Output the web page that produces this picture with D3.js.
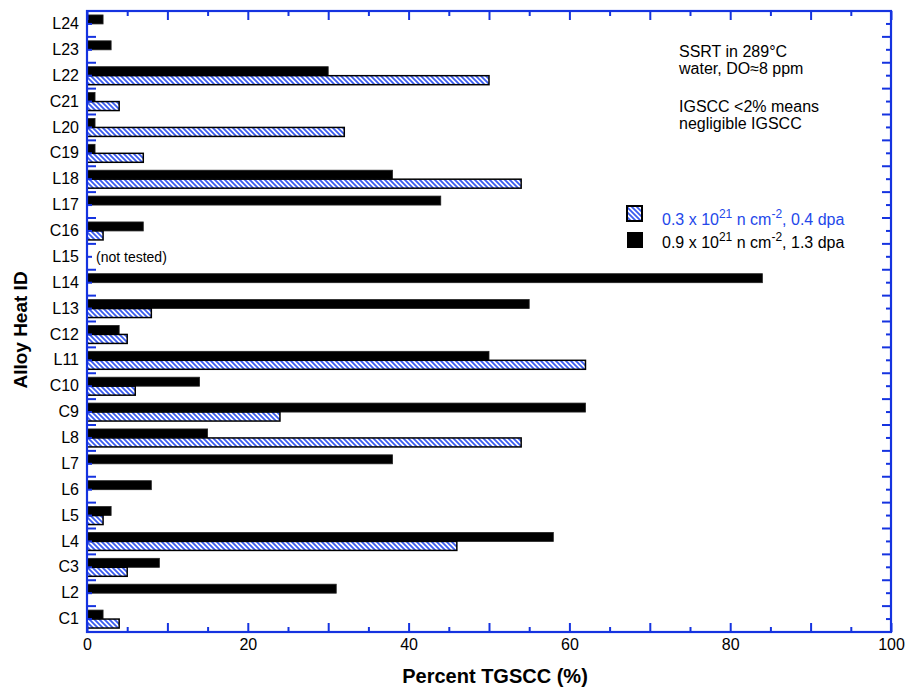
<!DOCTYPE html>
<html>
<head>
<meta charset="utf-8">
<script src="https://cdn.jsdelivr.net/npm/d3@7"></script>
<style>
  body { margin: 0; background: #fff; }
  svg { display: block; font-family: "Liberation Sans", Arial, Helvetica, sans-serif; }
</style>
</head>
<body>
<svg id="chart" width="910" height="688"></svg>
<script>
// ---- Data (bottom to top) ----
const categories = ["C1","L2","C3","L4","L5","L6","L7","L8","C9","C10","L11","C12","L13","L14","L15","C16","L17","L18","C19","L20","C21","L22","L23","L24"];
// 0.9 x 10^21 n cm^-2, 1.3 dpa (black)
const highDose = [2, 31, 9, 58, 3, 8, 38, 15, 62, 14, 50, 4, 55, 84, null, 7, 44, 38, 1, 1, 1, 30, 3, 2];
// 0.3 x 10^21 n cm^-2, 0.4 dpa (hatched)
const lowDose  = [4, null, 5, 46, 2, null, null, 54, 24, 6, 62, 5, 8, null, null, 2, null, 54, 7, 32, 4, 50, null, null];
const xMajorTicks = [0, 10, 20, 30, 40, 50, 60, 70, 80, 90, 100];
const xMinorTicks = [5, 15, 25, 35, 45, 55, 65, 75, 85, 95];
const xTitle = "Percent TGSCC (%)";
const yTitle = "Alloy Heat ID";
const noteLines1 = ["SSRT in 289°C", "water, DO≈8 ppm"];
const noteLines2 = ["IGSCC <2% means", "negligible IGSCC"];

// ---- Layout ----
const svg = d3.select("#chart");
const L = 87, R = 891, T = 11, B = 632;
const axisBlue = "#1533e0";
const textBlue = "#2448ea";

const x = d3.scaleLinear().domain([0, 100]).range([L, R]);
const y = d3.scaleBand().domain(categories.slice().reverse()).range([T, B]).padding(0);
const sub = d3.scaleBand().domain(["high", "low"]).range([0, y.bandwidth()]).paddingInner(0).paddingOuter(0.44);

// hatch pattern
const defs = svg.append("defs");
const pat = defs.append("pattern").attr("id", "hatch").attr("patternUnits", "userSpaceOnUse")
  .attr("width", 5).attr("height", 5);
pat.append("rect").attr("width", 5).attr("height", 5).attr("fill", "#fff");
pat.append("path").attr("d", "M0,0 L5,5 M-1,4 L1,6 M4,-1 L6,1")
  .attr("stroke", "#3a5cf0").attr("stroke-width", 1.8);

// bars
const rows = categories.map((c, i) => ({ cat: c, high: highDose[i], low: lowDose[i] }));
const g = svg.append("g");
rows.forEach(r => {
  if (r.high != null) {
    g.append("rect")
      .attr("x", x(0)).attr("y", y(r.cat) + sub("high"))
      .attr("width", x(r.high) - x(0)).attr("height", sub.bandwidth())
      .attr("fill", "#000").attr("stroke", "#222").attr("stroke-width", 0.8);
  }
  if (r.low != null) {
    g.append("rect")
      .attr("x", x(0)).attr("y", y(r.cat) + sub("low"))
      .attr("width", x(r.low) - x(0)).attr("height", sub.bandwidth())
      .attr("fill", "url(#hatch)").attr("stroke", "#000").attr("stroke-width", 1.5);
  }
});

// not tested label
svg.append("text").attr("x", x(0) + 9).attr("y", y("L15") + y.bandwidth() / 2 + 5)
  .attr("font-size", 14).attr("fill", "#000").text("(not tested)");

// ---- Axes ----
function styleAxis(sel) {
  sel.select(".domain").remove();
  sel.selectAll(".tick line").attr("stroke", axisBlue).attr("stroke-width", 2);
  sel.selectAll(".tick text").attr("fill", "#000").attr("font-size", 16)
     .attr("font-family", "Liberation Sans, Arial, sans-serif");
}
// bottom
svg.append("g").attr("transform", `translate(0,${B})`)
  .call(d3.axisBottom(x).tickValues(xMajorTicks).tickSize(-9).tickPadding(7)
    .tickFormat(d => d % 20 === 0 ? d : ""))
  .call(styleAxis);
svg.append("g").attr("transform", `translate(0,${B})`)
  .call(d3.axisBottom(x).tickValues(xMinorTicks).tickSize(-5).tickFormat(""))
  .call(styleAxis);
// top
svg.append("g").attr("transform", `translate(0,${T})`)
  .call(d3.axisTop(x).tickValues(xMajorTicks).tickSize(-9).tickFormat(""))
  .call(styleAxis);
svg.append("g").attr("transform", `translate(0,${T})`)
  .call(d3.axisTop(x).tickValues(xMinorTicks).tickSize(-5).tickFormat(""))
  .call(styleAxis);
// left (labels + minor ticks at centers)
svg.append("g").attr("transform", `translate(${L},0)`)
  .call(d3.axisLeft(y).tickSize(-5).tickPadding(8))
  .call(styleAxis);
// right minor
svg.append("g").attr("transform", `translate(${R},0)`)
  .call(d3.axisRight(y).tickSize(-5).tickFormat(""))
  .call(styleAxis);
// major ticks at band boundaries
const boundaries = categories.slice(1).map(c => y(c) + y.bandwidth());
svg.append("g").selectAll("line.lm").data(boundaries).join("line")
  .attr("x1", L).attr("x2", L + 9).attr("y1", d => d).attr("y2", d => d)
  .attr("stroke", axisBlue).attr("stroke-width", 2);
svg.append("g").selectAll("line.rm").data(boundaries).join("line")
  .attr("x1", R).attr("x2", R - 9).attr("y1", d => d).attr("y2", d => d)
  .attr("stroke", axisBlue).attr("stroke-width", 2);

// frame
svg.append("rect").attr("x", L).attr("y", T).attr("width", R - L).attr("height", B - T)
  .attr("fill", "none").attr("stroke", axisBlue).attr("stroke-width", 2.2);

// titles
svg.append("text").attr("x", 495).attr("y", 683).attr("text-anchor", "middle")
  .attr("font-size", 20).attr("font-weight", "bold").text(xTitle);
svg.append("text").attr("transform", `translate(27,${330}) rotate(-90)`)
  .attr("text-anchor", "middle").attr("font-size", 19).attr("font-weight", "bold").text(yTitle);

// notes
const notes = svg.append("g").attr("font-size", 16).attr("fill", "#000");
noteLines1.forEach((t, i) => notes.append("text").attr("x", 679).attr("y", 57 + i * 16.5).text(t));
noteLines2.forEach((t, i) => notes.append("text").attr("x", 679).attr("y", 112 + i * 16.5).text(t));

// legend
const lg = svg.append("g");
lg.append("rect").attr("x", 627).attr("y", 206).attr("width", 15).attr("height", 15)
  .attr("fill", "url(#hatch)").attr("stroke", "#000").attr("stroke-width", 2);
lg.append("rect").attr("x", 627).attr("y", 232).attr("width", 16).attr("height", 16)
  .attr("fill", "#000");
function legendText(yPos, color, a, b) {
  const t = lg.append("text").attr("x", 662).attr("y", yPos).attr("font-size", 16).attr("fill", color);
  t.append("tspan").text(a + " x 10");
  t.append("tspan").attr("dy", -7).attr("font-size", 12).text("21");
  t.append("tspan").attr("dy", 7).text(" n cm");
  t.append("tspan").attr("dy", -7).attr("font-size", 12).text("-2");
  t.append("tspan").attr("dy", 7).text(", " + b + " dpa");
}
legendText(225, textBlue, "0.3", "0.4");
legendText(248, "#000", "0.9", "1.3");
</script>
</body>
</html>
